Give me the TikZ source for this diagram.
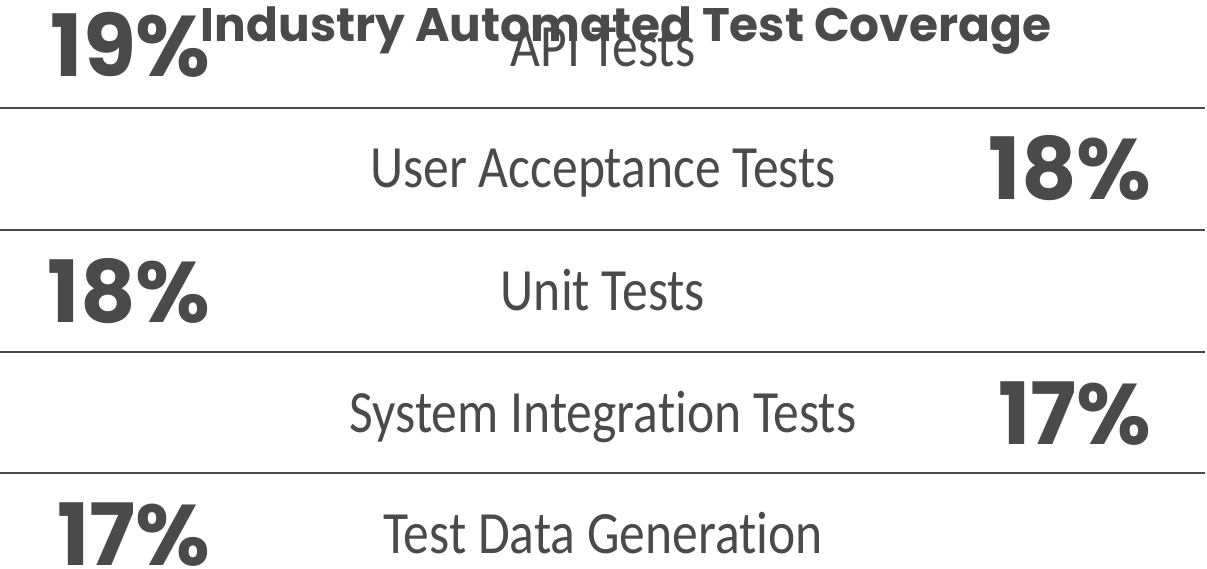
\documentclass[tikz,border=0pt]{standalone}
\usepackage{fontspec}
\setmainfont{Poppins}
\newfontfamily\pctfont{Poppins}
\newfontfamily\labfont[FakeStretch=0.86,Ligatures=CommonOff]{Carlito}
\definecolor{ink}{HTML}{4A4A4A}
\tikzset{
  rule/.style={draw=ink, line width=2.4pt},
  pct/.style={font=\pctfont\bfseries\fontsize{86}{86}\selectfont, text=ink, inner sep=0pt, anchor=base east},
  lab/.style={font=\labfont\fontsize{60}{60}\selectfont, text=ink, inner sep=0pt, anchor=base},
  ttl/.style={font=\bfseries\fontsize{47}{47}\selectfont, text=ink, inner sep=0pt, anchor=base}
}
\begin{document}
\begin{tikzpicture}[x=1pt,y=-1pt]
\useasboundingbox (0,0) rectangle (1207,569);
\draw[rule] (0,108) -- (1205,108);
\draw[rule] (0,230) -- (1205,230);
\draw[rule] (0,352) -- (1205,352);
\draw[rule] (0,473) -- (1205,473);
\node[pct] (p1) at (211,77) {19\%};
\node[lab] (l1) at (603,67) {API Tests};
\node[lab] (l2) at (603,188) {User Acceptance Tests};
\node[pct] (p2) at (1152,200) {18\%};
\node[pct] (p3) at (211,322) {18\%};
\node[lab] (l3) at (603,310) {Unit Tests};
\node[lab] (l4) at (603,432) {System Integration Tests};
\node[pct] (p4) at (1152,444) {17\%};
\node[pct] (p5) at (211,565) {17\%};
\node[lab] (l5) at (603,553) {Test Data Generation};
\node[ttl] (t) at (626,42) {Industry Automated Test Coverage};
\end{tikzpicture}
\end{document}
